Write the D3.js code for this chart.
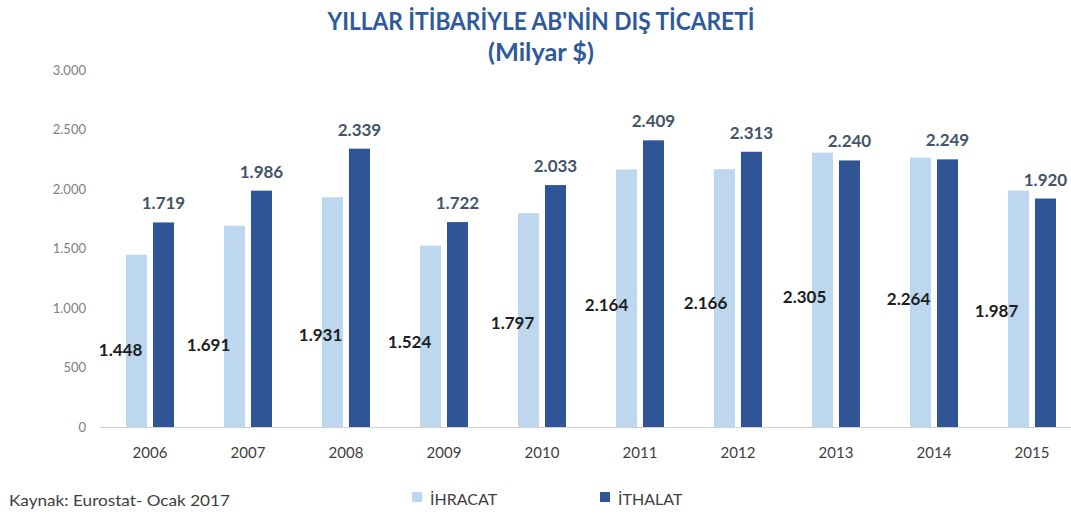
<!DOCTYPE html>
<html><head><meta charset="utf-8">
<script src="https://cdn.jsdelivr.net/npm/d3@7"></script>
<style>body{margin:0;background:#fff;} svg{display:block;}</style>
</head><body>
<svg id="c" width="1071" height="514"></svg>
<script>
const years = ["2006","2007","2008","2009","2010","2011","2012","2013","2014","2015"];
const ihracat = [1448,1691,1931,1524,1797,2164,2166,2305,2264,1987];
const ithalat = [1719,1986,2339,1722,2033,2409,2313,2240,2249,1920];
const seriesNames = ["İHRACAT","İTHALAT"];
const yTicks = [0,500,1000,1500,2000,2500,3000];
const titleLines = ["YILLAR İTİBARİYLE AB'NİN DIŞ TİCARETİ","(Milyar $)"];
const sourceText = "Kaynak: Eurostat- Ocak 2017";

// manual nudges of the export value labels (pixels, as placed in the original)
const exportLabelDx = [-16,-26,-12,-21,-16,-20,-19,-18,-12,-22];
const exportLabelDy = [9,19,23,6,3,7,5,7,7,2];

const colors = ["#bdd7ee","#2f5597"];
const font = "Lato, 'Open Sans', sans-serif";
const svg = d3.select("#c");

const y = d3.scaleLinear().domain([0,3000]).range([427,70]);
const x = d3.scaleBand().domain(years).range([101,1081]).padding(0);
const x1 = d3.scaleBand().domain(seriesNames).range([-24,24]).paddingInner(0.22);
const fmt = v => d3.format(",")(v).replace(/,/g,".");

// title
svg.append("text").attr("x",541).attr("y",30).attr("text-anchor","middle")
  .attr("font-family",font).attr("font-weight","bold").attr("font-size",24)
  .attr("fill","#2e5a9c").attr("textLength",427).attr("lengthAdjust","spacingAndGlyphs")
  .text(titleLines[0]);
svg.append("text").attr("x",541).attr("y",61).attr("text-anchor","middle")
  .attr("font-family",font).attr("font-weight","bold").attr("font-size",24)
  .attr("fill","#2e5a9c").attr("textLength",106).attr("lengthAdjust","spacingAndGlyphs")
  .text(titleLines[1]);

// y axis labels
const yAxis = d3.axisLeft(y).tickValues(yTicks).tickSize(0).tickPadding(0).tickFormat(fmt);
const gy = svg.append("g").attr("transform","translate(86,0)").call(yAxis);
gy.select(".domain").remove();
gy.selectAll("text").attr("font-family",font).attr("font-size",13).attr("fill","#7f7f7f");

// x axis
const xAxis = d3.axisBottom(x).tickSize(0).tickPadding(20);
const gx = svg.append("g").attr("transform","translate(0,427)").call(xAxis);
gx.select(".domain").attr("stroke","#d0d0d0").attr("d","M100,0.5H1071");
gx.selectAll("text").attr("font-family",font).attr("font-size",15).attr("fill","#404040");

const data = years.map((yr,i)=>({yr, i, vals:[ihracat[i], ithalat[i]]}));

const groups = svg.append("g").selectAll("g").data(data).join("g")
  .attr("transform", d=>`translate(${x(d.yr)+x.bandwidth()/2},0)`);

groups.selectAll("rect").data(d=>d.vals.map((v,k)=>({v,k}))).join("rect")
  .attr("x", d=>x1(seriesNames[d.k]))
  .attr("width", x1.bandwidth())
  .attr("y", d=>y(d.v))
  .attr("height", d=>y(0)-y(d.v))
  .attr("fill", d=>colors[d.k]);

// import labels (above dark bars)
groups.append("text")
  .attr("x", x1(seriesNames[1])+x1.bandwidth()/2)
  .attr("y", d=>y(d.vals[1])-13)
  .attr("text-anchor","middle")
  .attr("font-family",font).attr("font-weight","bold").attr("font-size",17)
  .attr("fill","#44546a")
  .text(d=>fmt(d.vals[1]));

// export labels (over light bars)
groups.append("text")
  .attr("x", d=>x1(seriesNames[0])+x1.bandwidth()/2+exportLabelDx[d.i])
  .attr("y", d=>(y(d.vals[0])+y(0))/2+exportLabelDy[d.i]+6)
  .attr("text-anchor","middle")
  .attr("font-family",font).attr("font-weight","bold").attr("font-size",17)
  .attr("fill","#1e1e1e")
  .text(d=>fmt(d.vals[0]));

// source
svg.append("text").attr("x",9).attr("y",506).attr("font-family",font).attr("font-size",15)
  .attr("fill","#404040").attr("textLength",221).attr("lengthAdjust","spacingAndGlyphs")
  .text(sourceText);

// legend
const legX = [412,600];
seriesNames.forEach((s,k)=>{
  svg.append("rect").attr("x",legX[k]).attr("y",492).attr("width",10).attr("height",10).attr("fill",colors[k]);
  svg.append("text").attr("x",legX[k]+18).attr("y",505).attr("font-family",font).attr("font-size",16)
    .attr("fill","#404040").text(s);
});
</script>
</body></html>
